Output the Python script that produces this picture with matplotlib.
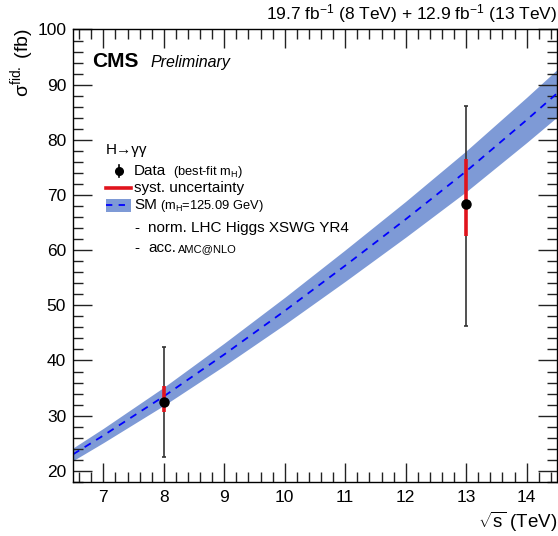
import matplotlib
matplotlib.use("Agg")
import matplotlib.pyplot as plt
from matplotlib.ticker import MultipleLocator
from matplotlib.patches import Rectangle
from matplotlib.lines import Line2D

plt.rcParams['font.family'] = ['Liberation Sans', 'DejaVu Sans']
plt.rcParams['mathtext.fontset'] = 'custom'
plt.rcParams['mathtext.rm'] = 'Liberation Sans'
plt.rcParams['mathtext.it'] = 'Liberation Sans:italic'
plt.rcParams['mathtext.bf'] = 'Liberation Sans:bold'

# SM prediction vs centre-of-mass energy
sqrt_s = [6.5, 7.0, 8.0, 9.0, 10.0, 11.0, 12.0, 13.0, 14.0, 14.5]
sm_xs = [23.0, 26.4, 33.5, 41.1, 49.0, 57.2, 65.6, 74.3, 83.6, 88.4]
sm_unc = [1.15, 1.3, 1.65, 2.05, 2.45, 2.85, 3.25, 3.7, 4.1, 4.3]

# measurements
data_energy = [8.0, 13.0]
data_xs = [32.4, 68.4]
tot_up = [10.0, 17.8]
tot_dn = [9.9, 22.1]
syst_up = [3.0, 8.1]
syst_dn = [1.7, 5.8]

band_color = '#7e9ad6'
red = '#e0141c'

fig = plt.figure(figsize=(5.58, 5.36), dpi=100)
ax = fig.add_axes([0.131, 0.101, 0.867, 0.844])

lo = [c - u for c, u in zip(sm_xs, sm_unc)]
hi = [c + u for c, u in zip(sm_xs, sm_unc)]
ax.fill_between(sqrt_s, lo, hi, color=band_color, lw=0, zorder=1)
ax.plot(sqrt_s, sm_xs, color='#0000ff', lw=1.3, ls=(0, (4, 3.5)), zorder=2)

ax.errorbar(data_energy, data_xs, yerr=[tot_dn, tot_up], fmt='none',
            ecolor='#333333', elinewidth=1.2, capsize=1.5, capthick=1.2, zorder=3)
ax.errorbar(data_energy, data_xs, yerr=[syst_dn, syst_up], fmt='none',
            ecolor=red, elinewidth=2.6, capsize=0, zorder=4)
ax.plot(data_energy, data_xs, 'o', color='black', ms=6.5, zorder=5)

ax.set_xlim(6.5, 14.5)
ax.set_ylim(18, 100)
ax.xaxis.set_major_locator(MultipleLocator(1))
ax.xaxis.set_minor_locator(MultipleLocator(0.2))
ax.yaxis.set_major_locator(MultipleLocator(10))
ax.yaxis.set_minor_locator(MultipleLocator(2))
ax.tick_params(which='both', direction='in', top=True, right=True,
               labelsize=12.5, width=1.0, color='#222222')
ax.tick_params(which='major', length=14, pad=6)
ax.tick_params(axis='y', which='major', pad=5)
ax.tick_params(which='minor', length=7)
for sp in ax.spines.values():
    sp.set_linewidth(1.0)
ax.set_yticks([20, 30, 40, 50, 60, 70, 80, 90, 100])


def fy(ypix):
    return 1 - ypix / 536.0


def fx(xpix):
    return xpix / 558.0


fig.text(0.998, fy(14), r'19.7 fb$^{-1}$ (8 TeV) + 12.9 fb$^{-1}$ (13 TeV)',
         ha='right', va='center', fontsize=12.5)
fig.text(fx(22), fy(28), '\u03c3$^{\\mathrm{fid.}}$ (fb)', rotation=90,
         ha='center', va='top', fontsize=14)
fig.text(0.998, fy(522), r'$\sqrt{\mathrm{s}}$ (TeV)', ha='right', va='center',
         fontsize=13.5)

ax.text(0.04, 0.93, 'CMS', transform=ax.transAxes, fontsize=15,
        fontweight='bold', ha='left', va='center')
ax.text(0.16, 0.928, 'Preliminary', transform=ax.transAxes, fontsize=11.5,
        style='italic', ha='left', va='center')

# legend block
fs = 11
small = 9.3
fig.text(fx(106), fy(150), 'H\u2192\u03b3\u03b3', fontsize=fs, va='center')

fig.add_artist(Line2D([fx(119), fx(119)], [fy(165), fy(177)], color='black', lw=1.2))
fig.add_artist(Line2D([fx(119)], [fy(171)], marker='o', color='black', ms=5.5))
fig.text(fx(134), fy(171), 'Data', fontsize=fs, va='center')
fig.text(fx(173), fy(172), r'(best-fit m$_{\mathrm{H}}$)', fontsize=small, va='center')

fig.add_artist(Line2D([fx(106), fx(131)], [fy(188), fy(188)], color=red, lw=2.6))
fig.text(fx(134), fy(188), 'syst. uncertainty', fontsize=fs, va='center')

fig.add_artist(Rectangle((fx(106), fy(212)), fx(131) - fx(106), fy(199) - fy(212),
                         transform=fig.transFigure, facecolor=band_color, lw=0))
fig.add_artist(Line2D([fx(106), fx(131)], [fy(205.5), fy(205.5)], color='#0000ff',
                      lw=1.3, ls=(0, (3.5, 3.5))))
fig.text(fx(134), fy(205.5), 'SM', fontsize=fs, va='center')
fig.text(fx(160), fy(206.5), r'(m$_{\mathrm{H}}$=125.09 GeV)', fontsize=small, va='center')

fig.text(fx(134), fy(228), '-', fontsize=fs, va='center')
fig.text(fx(148), fy(228), 'norm. LHC Higgs XSWG YR4', fontsize=fs, va='center')
fig.text(fx(134), fy(248), '-', fontsize=fs, va='center')
fig.text(fx(148), fy(248), 'acc.', fontsize=fs, va='center')
fig.text(fx(178), fy(249), 'AMC@NLO', fontsize=8, va='center')

fig.savefig('out.png', dpi=100)
